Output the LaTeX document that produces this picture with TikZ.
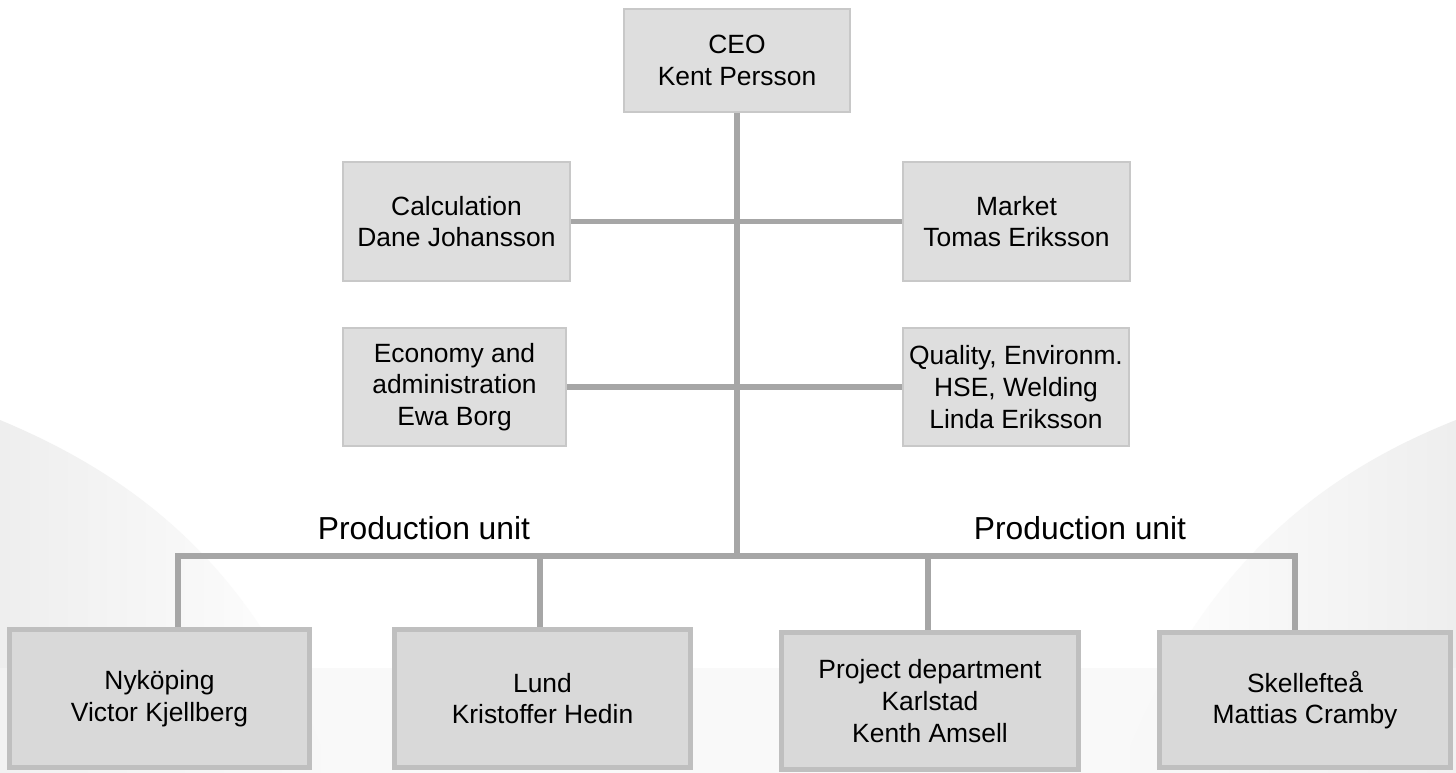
\documentclass[tikz,border=0pt]{standalone}
\usepackage{fontspec}
\setmainfont{Liberation Sans}
\definecolor{linegray}{HTML}{A6A6A6}
\definecolor{boxfill}{HTML}{DEDEDE}
\definecolor{boxline}{HTML}{C8C8C8}
\definecolor{bfill}{HTML}{D9D9D9}
\definecolor{bline}{HTML}{BFBFBF}
\definecolor{bgshade}{HTML}{EEEEEE}
\tikzset{
  upbox/.style={draw=boxline, fill=boxfill, line width=2pt, align=center,
    font=\fontsize{26.4}{31.7}\selectfont, inner sep=0pt},
  lowbox/.style={draw=bline, fill=bfill, line width=5pt, align=center,
    font=\fontsize{26.4}{31.7}\selectfont, inner sep=0pt},
  conn/.style={draw=linegray, line width=5.5pt, line join=miter},
  unitlabel/.style={font=\fontsize{31.8}{36}\selectfont, inner sep=0pt}
}
\begin{document}
\begin{tikzpicture}[x=1pt,y=-1pt]
\useasboundingbox (0,0) rectangle (1456,773);
% faint background shading
\fill[white] (0,0) rectangle (1456,773);
\shade[left color=bgshade, right color=white] (0,420) .. controls (120,470) and (260,560) .. (330,773) -- (0,773) -- cycle;
\shade[left color=white, right color=bgshade] (1456,420) .. controls (1330,470) and (1200,560) .. (1120,773) -- (1456,773) -- cycle;
\fill[black!4, opacity=0.6] (0,668) rectangle (1456,773);

% upper boxes
\node[upbox, minimum width=226pt, minimum height=103pt] (ceo) at (737,60.5) {CEO\\Kent Persson};
\node[upbox, minimum width=227pt, minimum height=119pt] (calc) at (456.5,221.5) {Calculation\\Dane Johansson};
\node[upbox, minimum width=227pt, minimum height=119pt] (market) at (1016.5,221.5) {Market\\Tomas Eriksson};
\node[upbox, minimum width=223pt, minimum height=118pt] (econ) at (454.5,387) {Economy and\\administration\\Ewa Borg};
\node[upbox, minimum width=226pt, minimum height=118pt] (qual) at (1016,387) {Quality, Environm.\\HSE, Welding\\Linda Eriksson};

% lower boxes
\node[lowbox, minimum width=300pt, minimum height=138pt] (nyk) at (159.5,698.5) {Nyköping\\Victor Kjellberg};
\node[lowbox, minimum width=296pt, minimum height=138pt] (lund) at (542.5,698.5) {Lund\\Kristoffer Hedin};
\node[lowbox, minimum width=297pt, minimum height=137pt] (proj) at (930,701) {Project department\\Karlstad\\Kenth Amsell};
\node[lowbox, minimum width=291pt, minimum height=135pt] (skel) at (1305,700) {Skellefteå\\Mattias Cramby};

% labels
\node[unitlabel] (pu1) at (424,528) {Production unit};
\node[unitlabel] (pu2) at (1080,528) {Production unit};

% bus coordinates
\coordinate (bus0) at (737,556);
\coordinate (b1) at (178,556);
\coordinate (b2) at (540,556);
\coordinate (b3) at (928,556);
\coordinate (b4) at (1295,556);

% connectors
\draw[conn] (calc.east) -- (market.west);
\draw[conn] (econ.east) -- (qual.west);
\draw[conn] (ceo.south) -- (bus0);
\draw[conn] (b1 |- nyk.north) -- (b1) -- (b4) -- (b4 |- skel.north);
\draw[conn] (b2) -- (b2 |- lund.north);
\draw[conn] (b3) -- (b3 |- proj.north);
\end{tikzpicture}
\end{document}
